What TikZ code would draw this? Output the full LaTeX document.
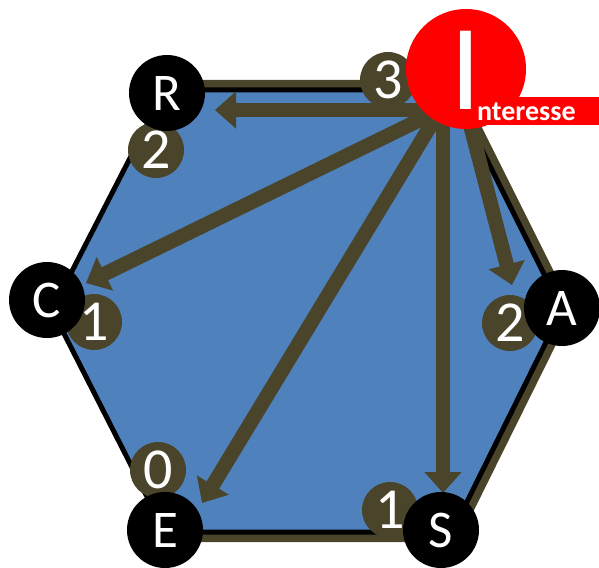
\documentclass[tikz,border=0pt]{standalone}
\usepackage{fontspec}
\setmainfont{Carlito}
\usetikzlibrary{arrows.meta}
\definecolor{hexolive}{RGB}{74,69,42}
\definecolor{hexblue}{RGB}{79,129,189}
\definecolor{hexred}{RGB}{255,0,0}
\begin{document}
\begin{tikzpicture}[x=1pt,y=-1pt,
  letter/.style={circle,fill=black,text=white,minimum size=76pt,inner sep=0pt,font=\fontsize{53}{53}\selectfont},
  num/.style={circle,fill=hexolive,text=white,minimum size=56pt,inner sep=0pt,font=\fontsize{58}{58}\selectfont},
  arr/.style={draw=hexolive,line width=14.5pt,-{Triangle[length=21pt,width=36pt]}}]
\useasboundingbox (0,0) rectangle (599,567);
% hexagon vertices
\coordinate (vR) at (165,90);
\coordinate (vI) at (452,90);
\coordinate (vA) at (562,310);
\coordinate (vS) at (452,532);
\coordinate (vE) at (165,532);
\coordinate (vC) at (52,310);
\draw[hexolive,line width=20pt,line join=miter] (vR) -- (vI) -- (vA) -- (vS) -- (vE);
\filldraw[fill=hexblue,draw=black,line width=5pt,line join=miter] (vR)--(vI)--(vA)--(vS)--(vE)--(vC)--cycle;
% arrows
\coordinate (src) at (440,110);
\coordinate (srcA) at (465,105);
\coordinate (srcS) at (443,108);
\coordinate (tR) at (215,110);
\coordinate (tC) at (86,283);
\coordinate (tE) at (202,503);
\coordinate (tS) at (443,493);
\coordinate (tA) at (512,285);
\draw[arr] (src) -- (tR);
\draw[arr] (src) -- (tC);
\draw[arr] (src) -- (tE);
\draw[arr] (srcS) -- (tS);
\draw[arr] (srcA) -- (tA);
% number circles
\node[num] (n3) at (388,80) {3};
\node[num] (n2r) at (156,150) {2};
\node[num] (n1c) at (94,322) {1};
\node[num] (n2a) at (510,323) {2};
\node[num] (n0) at (158,470) {0};
\node[num] (n1s) at (390,510) {1};
% letter circles
\node[letter] (R) at (167,93) {R};
\node[letter] (C) at (47,300) {C};
\node[letter] (A) at (562,308) {A};
\node[letter] (E) at (165,530) {E};
\node[letter] (S) at (441,530) {S};
% Interesse badge
\fill[hexred] (466,97) rectangle (599,125);
\node[circle,fill=hexred,minimum size=120pt,inner sep=0pt] (I) at (466,69) {};
\node[text=white,anchor=base,inner sep=0pt,font=\fontsize{122}{122}\selectfont] (Ibig) at (466,110) {I};
\node[text=white,anchor=base west,inner sep=0pt,font=\fontsize{28}{28}\selectfont\bfseries] (txt) at (477,121) {nteresse};
\end{tikzpicture}
\end{document}
